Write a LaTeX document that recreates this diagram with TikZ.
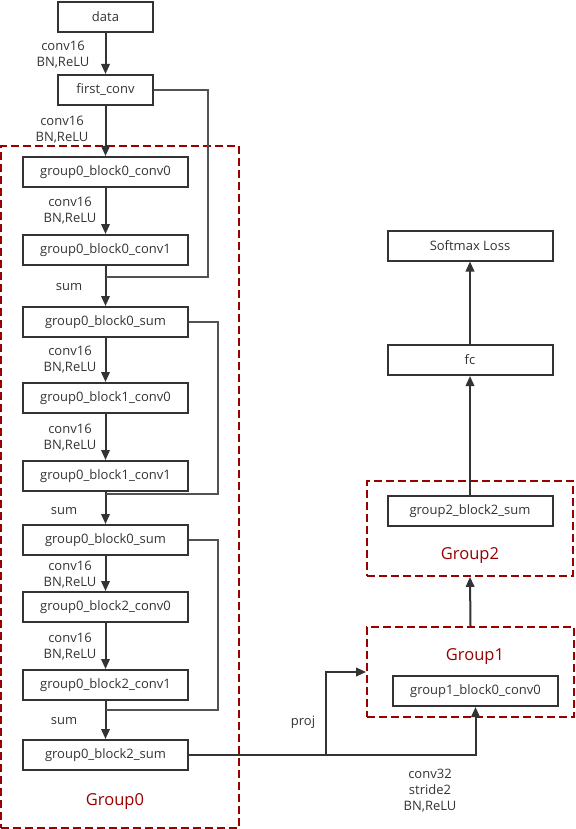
\documentclass[tikz,border=0pt]{standalone}
\usepackage{fontspec}
\setmainfont{Open Sans}
\usepackage{tikz}
\usetikzlibrary{arrows.meta, positioning, calc}

\definecolor{ink}{HTML}{333333}
\definecolor{grpred}{HTML}{990000}

\begin{document}
\begin{tikzpicture}[
    x=1pt, y=-1pt,
    >={Triangle[length=10pt,width=8.5pt]},
    every node/.style={text=ink, font=\fontsize{13}{16}\selectfont},
    layer/.style={rectangle, draw=ink, line width=2pt, minimum width=165pt, minimum height=30pt, inner sep=0pt},
    small/.style={layer, minimum width=95pt},
    group/.style={rectangle, draw=grpred, line width=1.8pt, dash pattern=on 8pt off 4pt, inner sep=0pt},
    glabel/.style={text=grpred, font=\fontsize{16.5}{18}\selectfont},
    note/.style={align=center},
    conn/.style={ink, ->, line width=2pt},
    skip/.style={ink!85, line width=1.6pt}
]

\useasboundingbox (0,0) rectangle (575,829);

% -------- Layout --------
\def\xmain{105.5}
\def\xright{470}

% -------- Groups --------
\node[group, minimum width=238pt, minimum height=682pt] (G0) at (120,487) {};
\node[group, minimum width=207pt, minimum height=90pt] (G1) at (470.5,672) {};
\node[group, minimum width=206pt, minimum height=95pt] (G2) at (470,528.5) {};

\node[glabel] (G0lab) at (115,801) {Group0};
\node[glabel] (G1lab) at (475,657) {Group1};
\node[glabel] (G2lab) at (470,556) {Group2};

% -------- Main column --------
\node[small] (data) at (\xmain,17) {data};
\node[small] (first) at (\xmain,90) {first\_conv};

\foreach \n/\t/\y in {
    b0c0/group0\_block0\_conv0/172,
    b0c1/group0\_block0\_conv1/250,
    s0/group0\_block0\_sum/322,
    b1c0/group0\_block1\_conv0/398,
    b1c1/group0\_block1\_conv1/476,
    s1/group0\_block0\_sum/540,
    b2c0/group0\_block2\_conv0/607,
    b2c1/group0\_block2\_conv1/685,
    s2/group0\_block2\_sum/755} {
    \node[layer] (\n) at (\xmain,\y) {\t};
}

\foreach \a/\b in {data/first, first/b0c0, b0c0/b0c1, b0c1/s0, s0/b1c0,
                   b1c0/b1c1, b1c1/s1, s1/b2c0, b2c0/b2c1, b2c1/s2} {
    \draw[conn] (\a.south) -- (\b.north);
}

% -------- Left labels --------
\foreach \i/\x/\y in {1/63/55, 2/62/130, 3/70/211, 4/70/360, 5/70/438, 6/70/575, 7/70/647} {
    \node[note] (c\i) at (\x,\y) {conv16\\BN,ReLU};
}
\node (sum0) at (69,287) {sum};
\node (sum1) at (64,511) {sum};
\node (sum2) at (64,721) {sum};

% -------- Shortcuts --------
\coordinate (j0) at (\xmain,277);
\coordinate (j1) at (\xmain,494);
\coordinate (j2) at (\xmain,710);
\coordinate (r0) at (208,277);
\coordinate (r1) at (218,494);
\coordinate (r2) at (218,710);

\draw[skip] (first.east) -| (r0) -- (j0);
\draw[skip] (s0.east) -| (r1) -- (j1);
\draw[skip] (s1.east) -| (r2) -- (j2);

% -------- Right column --------
\node[layer] (g1c0) at (475.5,691) {group1\_block0\_conv0};
\node[layer] (g2s) at (\xright,511) {group2\_block2\_sum};
\node[layer] (fc) at (\xright,360) {fc};
\node[layer] (loss) at (\xright,245.5) {Softmax Loss};

\coordinate (pj) at (326,755);
\draw[conn] (s2.east) -| (g1c0.south);
\draw[conn] (pj) |- (G1.west);

\node (proj) at (303,722) {proj};
\node[note] (c8) at (430,791) {conv32\\stride2\\BN,ReLU};

\draw[conn] (G1.north) -- (G2.south);
\draw[conn] (g2s.north) -- (fc.south);
\draw[conn] (fc.north) -- (loss.south);

\end{tikzpicture}
\end{document}
